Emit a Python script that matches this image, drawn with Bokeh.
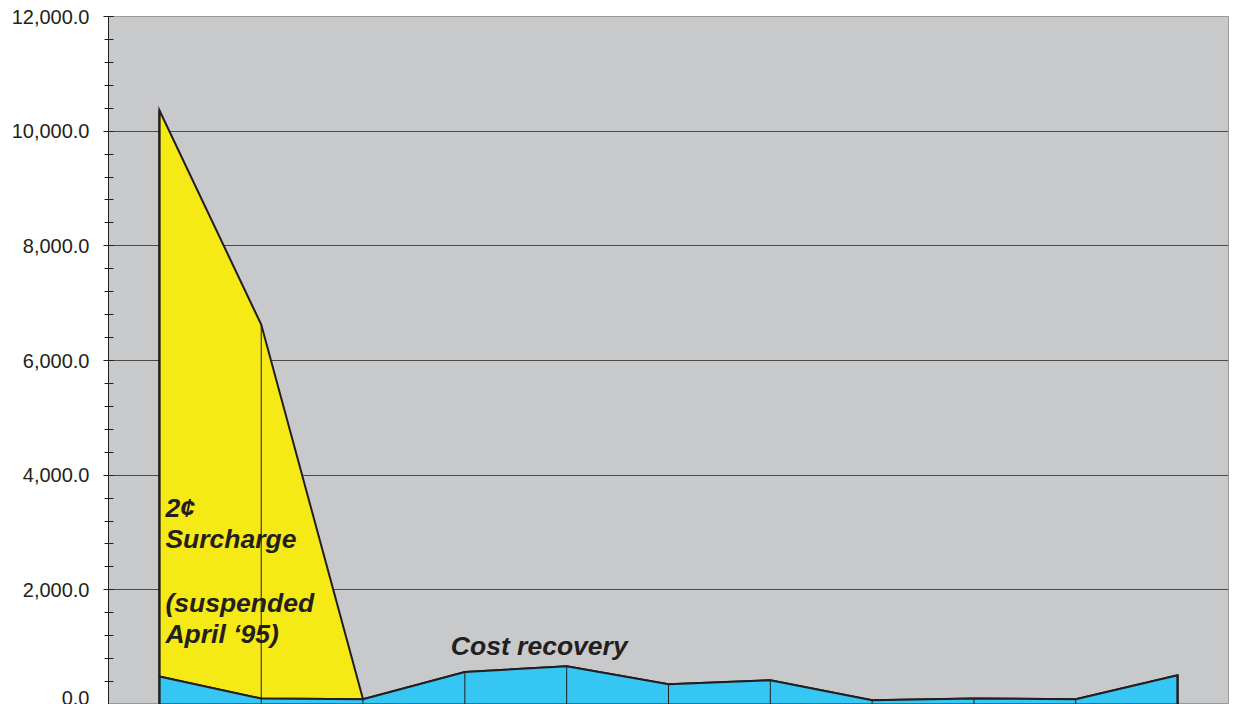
from bokeh.plotting import figure
from bokeh.models import FactorRange, Range1d, SingleIntervalTicker, NumeralTickFormatter
from bokeh.core.properties import value
from bokeh.embed import file_html
from bokeh.resources import INLINE

# ---- data ----
years = ["1993-94", "1994-95", "1995-96", "1996-97", "1997-98", "1998-99",
         "1999-00", "2000-01", "2001-02", "2002-03", "2003-04"]
cost_recovery = [490, 104, 90, 568, 666, 353, 423, 75, 104, 92, 510]
surcharge = [9875, 6522, 0, 0, 0, 0, 0, 0, 0, 0, 0]

total = [c + s for c, s in zip(cost_recovery, surcharge)]
zeros = [0] * len(years)

INK = "#231f20"
FONT = "Liberation Sans"

p = figure(width=1236, height=704, output_backend="svg", toolbar_location=None,
           x_range=FactorRange(factors=years, range_padding=0),
           y_range=Range1d(0, 12000), x_axis_location=None,
           min_border_left=108, min_border_right=8, min_border_top=16,
           min_border_bottom=0, background_fill_color="#c8c9cb",
           border_fill_color="white", outline_line_color="#9a9a9a",
           outline_line_width=1)

# stacked areas
p.patch(x=years + years[::-1], y=total + cost_recovery[::-1],
        fill_color="#f5e916", line_color=INK, line_width=2, line_join="miter")
p.patch(x=years + years[::-1], y=cost_recovery + zeros[::-1],
        fill_color="#35c6f4", line_color=INK, line_width=2, line_join="miter")
# drop lines
p.segment(x0=years, y0=zeros, x1=years, y1=total, line_color=INK, line_width=1)
# re-draw outer edges
p.segment(x0=[years[0], years[-1]], y0=[0, 0], x1=[years[0], years[-1]],
          y1=[total[0], total[-1]], line_color=INK, line_width=2)

# y axis
ax = p.yaxis[0]
ax.ticker = SingleIntervalTicker(interval=2000, num_minor_ticks=5)
ax.formatter = NumeralTickFormatter(format="0,0.0")
ax.major_label_text_font = FONT
ax.major_label_text_font_size = "20px"
ax.major_label_text_color = INK
ax.axis_line_color = INK
ax.major_tick_line_color = INK
ax.minor_tick_line_color = INK
ax.major_tick_out = 5
ax.major_tick_in = 5
ax.minor_tick_out = 4
ax.minor_tick_in = 5
ax.major_label_standoff = 14

p.xgrid.grid_line_color = None
p.ygrid.grid_line_color = "#4a4a4a"
p.ygrid.grid_line_width = 1

# annotations
lines = ["2\u00a2", "Surcharge", "(suspended", "April \u201895)"]
ly = [3436, 2895, 1779, 1238]
p.text(x=[years[0]] * 4, y=ly, text=lines, x_offset=6,
       text_font=value(FONT), text_font_style="bold italic",
       text_font_size="26.5px", text_color=INK, text_baseline="middle",
       text_align="left")
p.text(x=[years[3]], y=[1029], text=["Cost recovery"], x_offset=-14,
       text_font=value(FONT), text_font_style="bold italic",
       text_font_size="26.5px", text_color=INK, text_baseline="middle",
       text_align="left")

open("out.html", "w").write(file_html(p, INLINE))
